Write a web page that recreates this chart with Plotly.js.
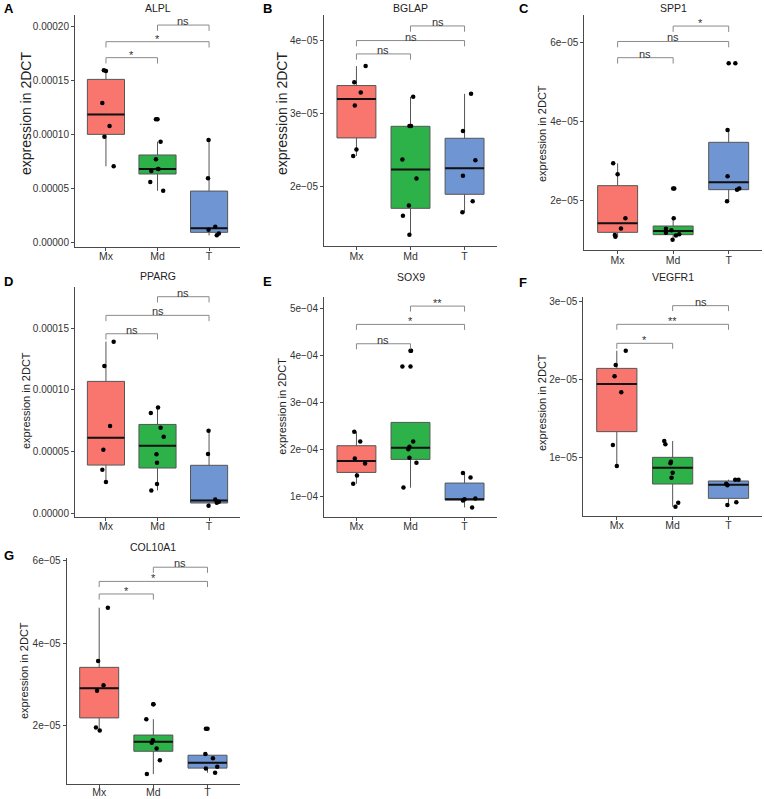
<!DOCTYPE html>
<html><head><meta charset="utf-8">
<script src="https://cdn.plot.ly/plotly-3.0.1.min.js"></script>
<style>html,body{margin:0;padding:0;background:#fff}#chart{width:764px;height:799px}</style>
</head><body><div id="chart"></div>
<script>
// ---------------- DATA ----------------
const groups = ['Mx', 'Md', 'T'];
const genes = ['ALPL', 'BGLAP', 'SPP1', 'PPARG', 'SOX9', 'VEGFR1', 'COL10A1'];
const panelLetters = ['A', 'B', 'C', 'D', 'E', 'F', 'G'];
const comparisons = [[0, 1], [0, 2], [1, 2]];
const yTitle = 'expression in 2DCT';

// ALPL
const ALPL_Mx = [15.93e-5, 15.86e-5, 12.9e-5, 10.77e-5, 9.78e-5, 7.04e-5];
const ALPL_Mx_dx = [-0.04, 0.0, -0.07, 0.07, -0.03, 0.15];
const ALPL_Md = [11.39e-5, 9.32e-5, 7.69e-5, 6.79e-5, 6.79e-5, 6.6e-5, 5.59e-5, 4.78e-5];
const ALPL_Md_dx = [-0.03, 0.06, -0.03, 0.01, 0.02, -0.12, -0.14, 0.11];
const ALPL_T = [9.48e-5, 5.93e-5, 1.45e-5, 1.17e-5, 0.83e-5, 0.65e-5];
const ALPL_T_dx = [-0.01, -0.02, 0.12, -0.01, 0.19, 0.15];
const ALPL_q1 = [10.0e-5, 6.33e-5, 0.93e-5];
const ALPL_med = [11.85e-5, 6.79e-5, 1.30e-5];
const ALPL_q3 = [15.09e-5, 8.09e-5, 4.75e-5];
const ALPL_lo = [7.04e-5, 4.78e-5, 0.65e-5];
const ALPL_hi = [15.93e-5, 9.32e-5, 9.48e-5];
const ALPL_sigY = [17.1e-5, 18.58e-5, 20.12e-5];
const ALPL_sigLab = ['*', '*', 'ns'];
const ALPL_ticks = [0, 5e-5, 10e-5, 15e-5, 20e-5];
const ALPL_tickText = ['0.00000', '0.00005', '0.00010', '0.00015', '0.00020'];

// BGLAP
const BGLAP_Mx = [3.65e-5, 3.43e-5, 3.29e-5, 3.11e-5, 2.51e-5, 2.42e-5];
const BGLAP_Mx_dx = [0.17, -0.04, 0.08, -0.03, 0.0, -0.06];
const BGLAP_Md = [3.23e-5, 2.83e-5, 2.83e-5, 2.37e-5, 2.11e-5, 1.74e-5, 1.60e-5, 1.34e-5];
const BGLAP_Md_dx = [0.05, -0.02, 0.01, -0.15, 0.11, -0.03, -0.14, -0.02];
const BGLAP_T = [3.27e-5, 2.76e-5, 2.36e-5, 2.15e-5, 1.80e-5, 1.65e-5];
const BGLAP_T_dx = [0.12, -0.03, 0.2, -0.03, 0.15, -0.04];
const BGLAP_q1 = [2.667e-5, 1.703e-5, 1.895e-5];
const BGLAP_med = [3.20e-5, 2.233e-5, 2.251e-5];
const BGLAP_q3 = [3.384e-5, 2.826e-5, 2.662e-5];
const BGLAP_lo = [2.42e-5, 1.338e-5, 1.648e-5];
const BGLAP_hi = [3.65e-5, 3.23e-5, 3.27e-5];
const BGLAP_sigY = [3.817e-5, 4.0e-5, 4.2e-5];
const BGLAP_sigLab = ['ns', 'ns', 'ns'];
const BGLAP_ticks = [2e-5, 3e-5, 4e-5];
const BGLAP_tickText = ['2e\u221205', '3e\u221205', '4e\u221205'];

// SPP1
const SPP1_Mx = [2.94e-5, 2.66e-5, 1.544e-5, 1.29e-5, 1.12e-5, 1.08e-5];
const SPP1_Mx_dx = [-0.08, 0.0, 0.14, 0.06, -0.05, -0.04];
const SPP1_Md = [2.30e-5, 1.544e-5, 1.283e-5, 1.24e-5, 1.18e-5, 1.14e-5, 1.11e-5, 1.0e-5];
const SPP1_Md_dx = [0.02, 0.01, -0.13, -0.03, -0.13, 0.11, 0.05, -0.01];
const SPP1_T = [5.47e-5, 3.78e-5, 2.608e-5, 2.30e-5, 2.27e-5, 1.975e-5];
const SPP1_T_dx = [0.12, -0.02, -0.02, 0.19, 0.15, -0.03];
const SPP1_q1 = [1.19e-5, 1.131e-5, 2.27e-5];
const SPP1_med = [1.418e-5, 1.224e-5, 2.456e-5];
const SPP1_q3 = [2.371e-5, 1.35e-5, 3.468e-5];
const SPP1_lo = [1.08e-5, 1.0e-5, 1.975e-5];
const SPP1_hi = [2.937e-5, 1.544e-5, 3.78e-5];
const SPP1_sigY = [5.61e-5, 6.02e-5, 6.41e-5];
const SPP1_sigLab = ['ns', 'ns', '*'];
const SPP1_ticks = [2e-5, 4e-5, 6e-5];
const SPP1_tickText = ['2e\u221205', '4e\u221205', '6e\u221205'];

// PPARG
const PPARG_Mx = [13.9e-5, 11.93e-5, 7.07e-5, 5.15e-5, 3.53e-5, 2.54e-5];
const PPARG_Mx_dx = [0.15, -0.03, 0.08, -0.05, -0.07, 0.0];
const PPARG_Md = [8.58e-5, 8.12e-5, 6.93e-5, 6.21e-5, 4.78e-5, 4.1e-5, 2.37e-5, 1.86e-5];
const PPARG_Md_dx = [0.01, -0.13, 0.06, 0.12, -0.02, -0.01, -0.01, -0.12];
const PPARG_T = [6.69e-5, 4.8e-5, 1.13e-5, 0.94e-5, 0.86e-5, 0.62e-5];
const PPARG_T_dx = [-0.01, -0.02, 0.12, 0.19, 0.15, -0.01];
const PPARG_q1 = [3.91e-5, 3.67e-5, 0.84e-5];
const PPARG_med = [6.125e-5, 5.48e-5, 1.05e-5];
const PPARG_q3 = [10.685e-5, 7.2e-5, 3.89e-5];
const PPARG_lo = [2.54e-5, 1.86e-5, 0.62e-5];
const PPARG_hi = [13.9e-5, 8.58e-5, 6.69e-5];
const PPARG_sigY = [14.54e-5, 16.03e-5, 17.54e-5];
const PPARG_sigLab = ['ns', 'ns', 'ns'];
const PPARG_ticks = [0, 5e-5, 10e-5, 15e-5];
const PPARG_tickText = ['0.00000', '0.00005', '0.00010', '0.00015'];

// SOX9
const SOX9_Mx = [2.37e-4, 2.165e-4, 1.803e-4, 1.696e-4, 1.44e-4, 1.26e-4];
const SOX9_Mx_dx = [-0.04, 0.07, -0.03, 0.16, 0.01, -0.06];
const SOX9_Md = [4.1e-4, 3.76e-4, 2.165e-4, 2.05e-4, 2.0e-4, 1.817e-4, 1.71e-4, 1.18e-4];
const SOX9_Md_dx = [0.01, -0.15, 0.05, -0.02, -0.04, -0.02, 0.11, -0.13];
const SOX9_T = [1.49e-4, 1.398e-4, 0.95e-4, 0.93e-4, 0.908e-4, 0.758e-4];
const SOX9_T_dx = [-0.03, 0.11, 0.2, 0.0, -0.03, 0.14];
const SOX9_q1 = [1.504e-4, 1.782e-4, 0.915e-4];
const SOX9_med = [1.746e-4, 2.03e-4, 0.93e-4];
const SOX9_q3 = [2.073e-4, 2.57e-4, 1.277e-4];
const SOX9_lo = [1.263e-4, 1.178e-4, 0.758e-4];
const SOX9_hi = [2.371e-4, 2.57e-4, 1.49e-4];
const SOX9_sigY = [4.247e-4, 4.659e-4, 5.05e-4];
const SOX9_sigLab = ['ns', '*', '**'];
const SOX9_ticks = [1e-4, 2e-4, 3e-4, 4e-4, 5e-4];
const SOX9_tickText = ['1e\u221204', '2e\u221204', '3e\u221204', '4e\u221204', '5e\u221204'];

// VEGFR1
const VEGFR1_Mx = [2.37e-5, 2.186e-5, 2.041e-5, 1.835e-5, 1.158e-5, 0.889e-5];
const VEGFR1_Mx_dx = [0.16, -0.02, -0.04, 0.08, -0.07, 0.0];
const VEGFR1_Md = [1.21e-5, 1.167e-5, 0.944e-5, 0.923e-5, 0.803e-5, 0.739e-5, 0.418e-5, 0.366e-5];
const VEGFR1_Md_dx = [-0.15, -0.13, -0.03, -0.04, 0.0, -0.02, 0.1, 0.05];
const VEGFR1_T = [0.713e-5, 0.713e-5, 0.662e-5, 0.64e-5, 0.422e-5, 0.388e-5];
const VEGFR1_T_dx = [0.12, 0.18, -0.04, -0.02, 0.14, -0.02];
const VEGFR1_q1 = [1.33e-5, 0.657e-5, 0.473e-5];
const VEGFR1_med = [1.942e-5, 0.867e-5, 0.649e-5];
const VEGFR1_q3 = [2.143e-5, 1.0e-5, 0.696e-5];
const VEGFR1_lo = [0.889e-5, 0.366e-5, 0.388e-5];
const VEGFR1_hi = [2.37e-5, 1.21e-5, 0.713e-5];
const VEGFR1_sigY = [2.465e-5, 2.709e-5, 2.949e-5];
const VEGFR1_sigLab = ['*', '**', 'ns'];
const VEGFR1_ticks = [1e-5, 2e-5, 3e-5];
const VEGFR1_tickText = ['1e\u221205', '2e\u221205', '3e\u221205'];

// COL10A1
const COL10A1_Mx = [4.86e-5, 3.561e-5, 2.974e-5, 2.837e-5, 1.944e-5, 1.87e-5];
const COL10A1_Mx_dx = [0.16, -0.02, 0.08, -0.04, -0.06, 0.01];
const COL10A1_Md = [2.507e-5, 2.145e-5, 1.63e-5, 1.573e-5, 1.429e-5, 1.147e-5, 0.809e-5];
const COL10A1_Md_dx = [0.0, -0.13, -0.01, -0.03, 0.06, 0.12, -0.12];
const COL10A1_T = [1.911e-5, 1.3e-5, 1.195e-5, 0.986e-5, 0.946e-5, 0.841e-5];
const COL10A1_T_dx = [-0.03, -0.04, 0.1, 0.18, -0.03, 0.14];
const COL10A1_q1 = [2.177e-5, 1.364e-5, 0.954e-5];
const COL10A1_med = [2.901e-5, 1.598e-5, 1.082e-5];
const COL10A1_q3 = [3.408e-5, 1.759e-5, 1.268e-5];
const COL10A1_lo = [1.87e-5, 0.809e-5, 0.841e-5];
const COL10A1_hi = [4.86e-5, 2.145e-5, 1.3e-5];
const COL10A1_sigY = [5.195e-5, 5.501e-5, 5.847e-5];
const COL10A1_sigLab = ['*', '*', 'ns'];
const COL10A1_ticks = [2e-5, 4e-5, 6e-5];
const COL10A1_tickText = ['2e\u221205', '4e\u221205', '6e\u221205'];

// ---------------- LAYOUT / STYLE ----------------
const W = 764, H = 799;
const fillColors = ['#F8766D', '#2DB24A', '#6F95D2'];
const FONT = 'Liberation Sans, Arial, Helvetica, sans-serif';

const panels = [
  {pts: [ALPL_Mx, ALPL_Md, ALPL_T], dx: [ALPL_Mx_dx, ALPL_Md_dx, ALPL_T_dx], q1: ALPL_q1, med: ALPL_med, q3: ALPL_q3, lo: ALPL_lo, hi: ALPL_hi, sigY: ALPL_sigY, sigLab: ALPL_sigLab, ticks: ALPL_ticks, tickText: ALPL_tickText,
   box: [75, 15, 240, 246.7], yr: [-0.4e-5, 21.05e-5], yt: [26, 114, 14], lt: [2, 9], tt: 8},
  {pts: [BGLAP_Mx, BGLAP_Md, BGLAP_T], dx: [BGLAP_Mx_dx, BGLAP_Md_dx, BGLAP_T_dx], q1: BGLAP_q1, med: BGLAP_med, q3: BGLAP_q3, lo: BGLAP_lo, hi: BGLAP_hi, sigY: BGLAP_sigY, sigLab: BGLAP_sigLab, ticks: BGLAP_ticks, tickText: BGLAP_tickText,
   box: [324, 15, 497, 246], yr: [1.187e-5, 4.35e-5], yt: [282, 114, 14], lt: [261, 9], tt: 8},
  {pts: [SPP1_Mx, SPP1_Md, SPP1_T], dx: [SPP1_Mx_dx, SPP1_Md_dx, SPP1_T_dx], q1: SPP1_q1, med: SPP1_med, q3: SPP1_q3, lo: SPP1_lo, hi: SPP1_hi, sigY: SPP1_sigY, sigLab: SPP1_sigLab, ticks: SPP1_ticks, tickText: SPP1_tickText,
   box: [584.3, 15, 762, 250], yr: [0.743e-5, 6.69e-5], yt: [542, 134, 11], lt: [517, 9], tt: 8},
  {pts: [PPARG_Mx, PPARG_Md, PPARG_T], dx: [PPARG_Mx_dx, PPARG_Md_dx, PPARG_T_dx], q1: PPARG_q1, med: PPARG_med, q3: PPARG_q3, lo: PPARG_lo, hi: PPARG_hi, sigY: PPARG_sigY, sigLab: PPARG_sigLab, ticks: PPARG_ticks, tickText: PPARG_tickText,
   box: [75, 286.7, 240, 516.7], yr: [-0.27e-5, 18.35e-5], yt: [26, 401, 11], lt: [2, 281], tt: 276},
  {pts: [SOX9_Mx, SOX9_Md, SOX9_T], dx: [SOX9_Mx_dx, SOX9_Md_dx, SOX9_T_dx], q1: SOX9_q1, med: SOX9_med, q3: SOX9_q3, lo: SOX9_lo, hi: SOX9_hi, sigY: SOX9_sigY, sigLab: SOX9_sigLab, ticks: SOX9_ticks, tickText: SOX9_tickText,
   box: [324, 296.7, 497, 516.7], yr: [0.56e-4, 5.25e-4], yt: [282, 406.7, 11], lt: [261, 281], tt: 277},
  {pts: [VEGFR1_Mx, VEGFR1_Md, VEGFR1_T], dx: [VEGFR1_Mx_dx, VEGFR1_Md_dx, VEGFR1_T_dx], q1: VEGFR1_q1, med: VEGFR1_med, q3: VEGFR1_q3, lo: VEGFR1_lo, hi: VEGFR1_hi, sigY: VEGFR1_sigY, sigLab: VEGFR1_sigLab, ticks: VEGFR1_ticks, tickText: VEGFR1_tickText,
   box: [583.3, 296.7, 762, 515.7], yr: [0.25e-5, 3.064e-5], yt: [542, 403, 11], lt: [517, 282], tt: 277},
  {pts: [COL10A1_Mx, COL10A1_Md, COL10A1_T], dx: [COL10A1_Mx_dx, COL10A1_Md_dx, COL10A1_T_dx], q1: COL10A1_q1, med: COL10A1_med, q3: COL10A1_q3, lo: COL10A1_lo, hi: COL10A1_hi, sigY: COL10A1_sigY, sigLab: COL10A1_sigLab, ticks: COL10A1_ticks, tickText: COL10A1_tickText,
   box: [66.7, 558.3, 240, 784], yr: [0.567e-5, 6.064e-5], yt: [24, 671, 11], lt: [2, 555], tt: 547, xStand: -5}
];

const traces = [];
const shapes = [];
const annotations = [];
const layout = {
  width: W, height: H, margin: {l: 0, r: 0, t: 0, b: 0},
  paper_bgcolor: '#ffffff', plot_bgcolor: '#ffffff', showlegend: false,
  font: {family: FONT, color: '#333'}
};
const BOXW = 0.72;
const axisColor = '#4a4a4a';

panels.forEach((p, i) => {
  const n = i + 1;
  const xa = 'x' + (n === 1 ? '' : n), ya = 'y' + (n === 1 ? '' : n);
  const xk = 'xaxis' + (n === 1 ? '' : n), yk = 'yaxis' + (n === 1 ? '' : n);
  const [x0, y0, x1, y1] = p.box;
  const span = p.yr[1] - p.yr[0];
  layout[xk] = {
    domain: [x0 / W, x1 / W], anchor: ya, range: [-0.6, 2.6],
    tickvals: [0, 1, 2], ticktext: groups, showline: true, linecolor: axisColor, linewidth: 1,
    ticks: 'outside', ticklen: 3, tickcolor: axisColor, tickfont: {size: 10.5, color: '#333', family: FONT},
    ticklabelstandoff: p.xStand !== undefined ? p.xStand : -3,
    showgrid: false, zeroline: false, fixedrange: true
  };
  layout[yk] = {
    domain: [1 - y1 / H, 1 - y0 / H], anchor: xa, range: p.yr,
    tickvals: p.ticks, ticktext: p.tickText, showline: true, linecolor: axisColor, linewidth: 1,
    ticks: 'outside', ticklen: 3, tickcolor: axisColor, tickfont: {size: 10, color: '#333', family: FONT},
    showgrid: false, zeroline: false, fixedrange: true
  };
  groups.forEach((g, k) => {
    traces.push({
      type: 'box', xaxis: xa, yaxis: ya, x: [k], q1: [p.q1[k]], median: [p.med[k]], q3: [p.q3[k]],
      lowerfence: [p.lo[k]], upperfence: [p.hi[k]], width: BOXW, whiskerwidth: 0,
      fillcolor: fillColors[k], line: {color: '#555555', width: 1}, boxpoints: false, hoverinfo: 'skip'
    });
    traces.push({
      type: 'scatter', mode: 'lines', xaxis: xa, yaxis: ya,
      x: [k - BOXW / 2, k + BOXW / 2], y: [p.med[k], p.med[k]],
      line: {color: '#111', width: 2}, hoverinfo: 'skip'
    });
    // outliers (beyond whiskers) drawn at group centre, as geom_boxplot does
    const tol = 0.01 * span;
    const outs = p.pts[k].filter(v => v > p.hi[k] + tol || v < p.lo[k] - tol);
    if (outs.length) traces.push({
      type: 'scatter', mode: 'markers', xaxis: xa, yaxis: ya,
      x: outs.map(() => k), y: outs, marker: {color: '#000', size: 4.5}, hoverinfo: 'skip'
    });
    traces.push({
      type: 'scatter', mode: 'markers', xaxis: xa, yaxis: ya,
      x: p.pts[k].map((v, j) => k + p.dx[k][j]), y: p.pts[k],
      marker: {color: '#000', size: 4.5}, hoverinfo: 'skip'
    });
  });
  // significance brackets
  const tip = 0.025 * span;
  comparisons.forEach(([a, b], c) => {
    const yv = p.sigY[c];
    shapes.push({
      type: 'path', xref: xa, yref: ya,
      path: `M ${a},${yv - tip} L ${a},${yv} L ${b},${yv} L ${b},${yv - tip}`,
      line: {color: '#8a8a8a', width: 1}
    });
    annotations.push({
      xref: xa, yref: ya, x: (a + b) / 2, y: yv, text: p.sigLab[c], showarrow: false,
      yanchor: 'bottom', yshift: p.sigLab[c] === 'ns' ? -4 : -5, font: {size: 11, color: '#333', family: FONT}
    });
  });
  // gene title
  annotations.push({
    xref: 'paper', yref: 'paper', x: ((x0 + x1) / 2) / W, y: 1 - p.tt / H, text: genes[i],
    showarrow: false, xanchor: 'center', yanchor: 'middle', font: {size: 10.5, color: '#222', family: FONT}
  });
  // panel letter
  annotations.push({
    xref: 'paper', yref: 'paper', x: p.lt[0] / W, y: 1 - p.lt[1] / H, text: '<b>' + panelLetters[i] + '</b>',
    showarrow: false, xanchor: 'left', yanchor: 'middle', font: {size: 13, color: '#000', family: FONT}
  });
  // y-axis title
  annotations.push({
    xref: 'paper', yref: 'paper', x: p.yt[0] / W, y: 1 - p.yt[1] / H, text: yTitle, textangle: -90,
    showarrow: false, xanchor: 'center', yanchor: 'middle', font: {size: p.yt[2], color: '#222', family: FONT}
  });
});
layout.shapes = shapes;
layout.annotations = annotations;

Plotly.newPlot('chart', traces, layout, {displayModeBar: false, staticPlot: true});
</script>
</body></html>
